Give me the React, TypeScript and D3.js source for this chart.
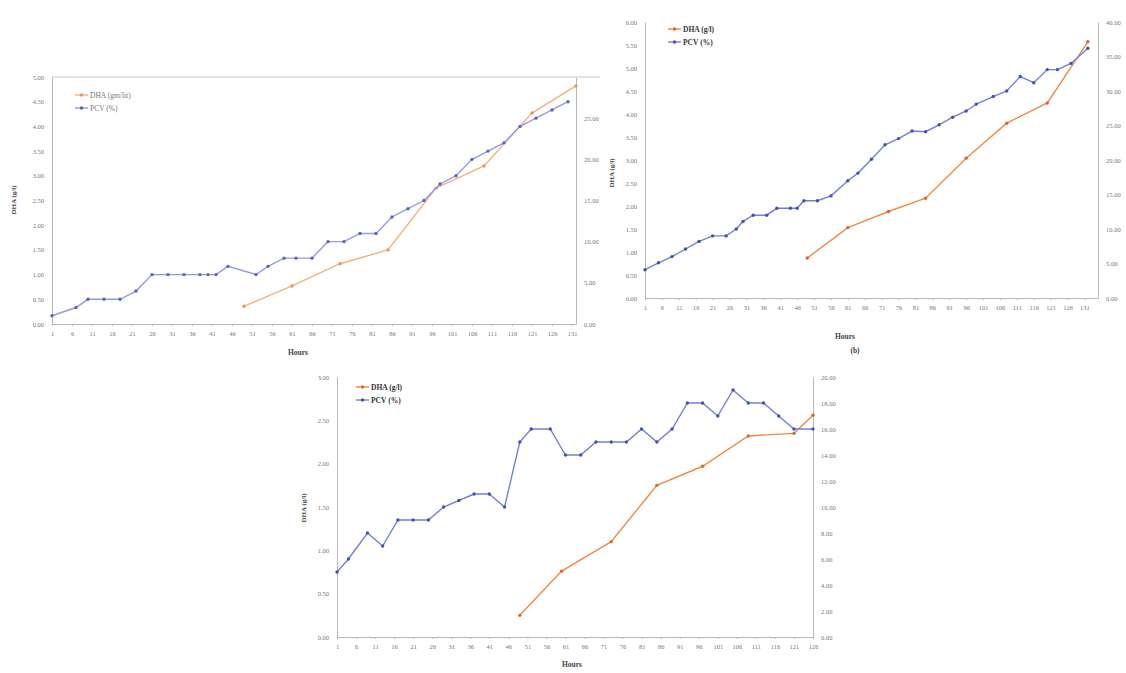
import React, { useEffect, useRef } from 'react';
import * as d3 from 'd3';

// Panel (a)
const hoursPcvA = [1, 7, 10, 14, 18, 22, 26, 30, 34, 38, 40, 42, 45, 52, 55, 59, 62, 66, 70, 74, 78, 82, 86, 90, 94, 98, 102, 106, 110, 114, 118, 122, 126, 130];
const pcvA = [1, 2, 3, 3, 3, 4, 6, 6, 6, 6, 6, 6, 7, 6, 7, 8, 8, 8, 10, 10, 11, 11, 13, 14, 15, 17, 18, 20, 21, 22, 24, 25, 26, 27];
const hoursDhaA = [49, 61, 73, 85, 97, 109, 121, 132];
const dhaA = [0.36, 0.77, 1.22, 1.5, 2.75, 3.2, 4.27, 4.82];

// Panel (b)
const hoursPcvB = [1, 5, 9, 13, 17, 21, 25, 28, 30, 33, 37, 40, 44, 46, 48, 52, 56, 61, 64, 68, 72, 76, 80, 84, 88, 92, 96, 99, 104, 108, 112, 116, 120, 123, 127, 132];
const pcvB = [4.1, 5.1, 6, 7.1, 8.2, 9, 9, 10, 11.1, 12, 12, 13, 13, 13, 14.1, 14.1, 14.8, 17, 18.1, 20.1, 22.2, 23.1, 24.2, 24.1, 25.1, 26.2, 27.1, 28.1, 29.2, 30, 32.1, 31.2, 33.1, 33.1, 34, 36.2];
const hoursDhaB = [49, 61, 73, 84, 96, 108, 120, 132];
const dhaB = [0.87, 1.53, 1.88, 2.17, 3.04, 3.8, 4.24, 5.57];

// Panel (c)
const hoursPcvC = [1, 4, 9, 13, 17, 21, 25, 29, 33, 37, 41, 45, 49, 52, 57, 61, 65, 69, 73, 77, 81, 85, 89, 93, 97, 101, 105, 109, 113, 117, 121, 126];
const pcvC = [5, 6, 8, 7, 9, 9, 9, 10, 10.5, 11, 11, 10, 15, 16, 16, 14, 14, 15, 15, 15, 16, 15, 16, 18, 18, 17, 19, 18, 18, 17, 16, 16];
const hoursDhaC = [49, 60, 73, 85, 97, 109, 121, 126];
const dhaC = [0.25, 0.76, 1.1, 1.75, 1.97, 2.32, 2.35, 2.56];

const leftTicksA = d3.range(0, 5.01, 0.5);
const rightTicksA = d3.range(0, 25.01, 5);
const leftTicksB = d3.range(0, 6.01, 0.5);
const rightTicksB = d3.range(0, 40.01, 5);
const leftTicksC = d3.range(0, 3.01, 0.5);
const rightTicksC = d3.range(0, 20.01, 2);
const hourTicksA = d3.range(1, 132, 5);
const hourTicksB = d3.range(1, 132, 5);
const hourTicksC = d3.range(1, 127, 5);

const serif = '"Liberation Serif", "Times New Roman", serif';

const panels = [
  {
    x0: 52, x1: 576, top: 77, bottom: 324, xDomain: [1, 132],
    left: [0, 5], right: [0, 30], leftTicks: leftTicksA, rightTicks: rightTicksA, hourTicks: hourTicksA,
    pcvHours: hoursPcvA, pcv: pcvA, dhaHours: hoursDhaA, dha: dhaA,
    orange: '#f5b07c', orangeDot: '#e9935a', blue: '#8e9de0', blueDot: '#5666b8',
    legend: ['DHA (gm/lit)', 'PCV (%)'], legendX: 75, legendY: 95, legendBold: false,
    yTitle: { x: 16, y: 200 }, hours: { x: 298, y: 355 },
    topLine: 600, caption: null,
  },
  {
    x0: 645, x1: 1098, top: 22, bottom: 298, xDomain: [1, 135],
    left: [0, 6], right: [0, 40], leftTicks: leftTicksB, rightTicks: rightTicksB, hourTicks: hourTicksB,
    pcvHours: hoursPcvB, pcv: pcvB, dhaHours: hoursDhaB, dha: dhaB,
    orange: '#f08a46', orangeDot: '#d9662a', blue: '#6f82d8', blueDot: '#4352a8',
    legend: ['DHA (g/l)', 'PCV (%)'], legendX: 668, legendY: 29, legendBold: true,
    yTitle: { x: 614, y: 173 }, hours: { x: 845, y: 339 },
    topLine: null, caption: { x: 855, y: 353, text: '(b)' },
  },
  {
    x0: 337, x1: 813, top: 377, bottom: 637, xDomain: [1, 126],
    left: [0, 3], right: [0, 20], leftTicks: leftTicksC, rightTicks: rightTicksC, hourTicks: hourTicksC,
    pcvHours: hoursPcvC, pcv: pcvC, dhaHours: hoursDhaC, dha: dhaC,
    orange: '#f08a46', orangeDot: '#d9662a', blue: '#6f82d8', blueDot: '#4352a8',
    legend: ['DHA (g/l)', 'PCV (%)'], legendX: 356, legendY: 387, legendBold: true,
    yTitle: { x: 306, y: 508 }, hours: { x: 572, y: 667 },
    topLine: null, caption: null,
  },
];

function App() {
  const svgRef = useRef(null);

  useEffect(() => {
    const svg = d3.select(svgRef.current).html('');

    panels.forEach((p) => {
      const g = svg.append('g');
      const x = d3.scaleLinear().domain(p.xDomain).range([p.x0, p.x1]);
      const yL = d3.scaleLinear().domain(p.left).range([p.bottom, p.top]);
      const yR = d3.scaleLinear().domain(p.right).range([p.bottom, p.top]);

      // axes
      const styleAxis = (sel) => {
        sel.select('.domain').attr('stroke', '#b8b8b8');
        sel.selectAll('.tick line').attr('stroke', '#b8b8b8');
        sel.selectAll('.tick text').attr('fill', '#777').attr('font-family', serif).attr('font-size', 6.5);
      };
      g.append('g')
        .attr('transform', `translate(0,${p.bottom})`)
        .call(d3.axisBottom(x).tickValues(p.hourTicks).tickSize(2).tickSizeOuter(0).tickPadding(5).tickFormat(d3.format('d')))
        .call(styleAxis);
      g.append('g')
        .attr('transform', `translate(${p.x0},0)`)
        .call(d3.axisLeft(yL).tickValues(p.leftTicks).tickSize(0).tickPadding(8).tickFormat(d3.format('.2f')))
        .call(styleAxis);
      g.append('g')
        .attr('transform', `translate(${p.x1},0)`)
        .call(d3.axisRight(yR).tickValues(p.rightTicks).tickSize(0).tickPadding(8).tickFormat(d3.format('.2f')))
        .call(styleAxis);

      if (p.topLine) {
        g.append('line').attr('x1', p.x0).attr('x2', p.topLine).attr('y1', p.top).attr('y2', p.top)
          .attr('stroke', '#c8c8c8');
      }

      // series
      const series = [
        { hours: p.dhaHours, vals: p.dha, y: yL, color: p.orange, dot: p.orangeDot },
        { hours: p.pcvHours, vals: p.pcv, y: yR, color: p.blue, dot: p.blueDot },
      ];
      series.forEach((s) => {
        const pts = s.hours.map((h, i) => [h, s.vals[i]]);
        g.append('path')
          .attr('d', d3.line().x((d) => x(d[0])).y((d) => s.y(d[1]))(pts))
          .attr('fill', 'none').attr('stroke', s.color).attr('stroke-width', 1.4);
        g.selectAll(null).data(pts).enter().append('circle')
          .attr('cx', (d) => x(d[0])).attr('cy', (d) => s.y(d[1])).attr('r', 1.7)
          .attr('fill', s.dot);
      });

      // legend
      const leg = g.append('g').attr('font-family', serif).attr('font-size', 7.5)
        .attr('font-weight', p.legendBold ? 'bold' : 'normal').attr('fill', p.legendBold ? '#333' : '#777');
      [[p.orange, p.orangeDot], [p.blue, p.blueDot]].forEach((c, i) => {
        const yy = p.legendY + i * 13;
        leg.append('line').attr('x1', p.legendX).attr('x2', p.legendX + 13).attr('y1', yy).attr('y2', yy)
          .attr('stroke', c[0]).attr('stroke-width', 1.4);
        leg.append('circle').attr('cx', p.legendX + 6.5).attr('cy', yy).attr('r', 1.7).attr('fill', c[1]);
        leg.append('text').attr('x', p.legendX + 15).attr('y', yy + 2.5).text(p.legend[i]);
      });

      // titles
      g.append('text').attr('transform', `translate(${p.yTitle.x},${p.yTitle.y}) rotate(-90)`)
        .attr('text-anchor', 'middle').attr('font-family', serif).attr('font-size', 7).attr('font-weight', 'bold')
        .attr('fill', '#444').text('DHA (g/l)');
      g.append('text').attr('x', p.hours.x).attr('y', p.hours.y).attr('text-anchor', 'middle')
        .attr('font-family', serif).attr('font-size', 7.5).attr('font-weight', 'bold').attr('fill', '#444').text('Hours');
      if (p.caption) {
        g.append('text').attr('x', p.caption.x).attr('y', p.caption.y).attr('text-anchor', 'middle')
          .attr('font-family', serif).attr('font-size', 7.5).attr('font-weight', 'bold').attr('fill', '#444').text(p.caption.text);
      }
    });
  }, []);

  return (
    <svg ref={svgRef} width={1126} height={673}
      style={{ position: 'absolute', left: 0, top: 0, background: '#fff' }} />
  );
}

export default App;
